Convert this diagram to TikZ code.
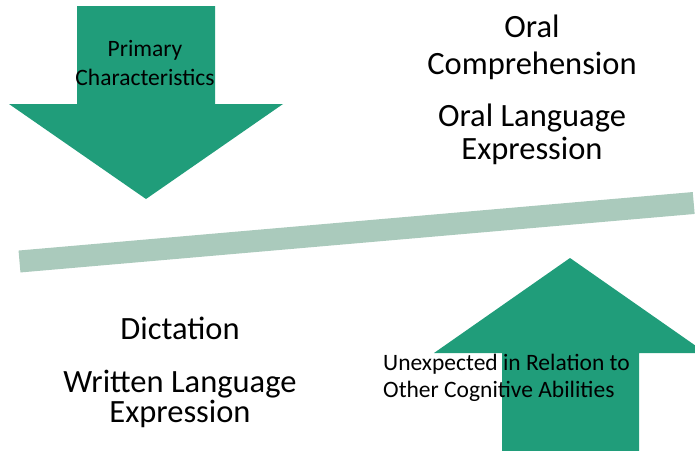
\documentclass[tikz,border=0pt]{standalone}
\usepackage{fontspec}
\setmainfont{Carlito}
\definecolor{arrowgreen}{RGB}{32,157,122}
\definecolor{bargreen}{RGB}{170,202,188}
\begin{document}
\begin{tikzpicture}[x=1pt,y=-1pt,
  bigtext/.style={inner sep=0pt,anchor=base,align=center,font=\fontsize{32.5}{36}\selectfont},
  smalltext/.style={inner sep=0pt,anchor=base,font=\fontsize{23.5}{27.5}\selectfont},
  arrowfill/.style={fill=arrowgreen,draw=none}]
\useasboundingbox (0,0) rectangle (695,450);
\clip (0,0) rectangle (695,450);
% down arrow
\fill[arrowfill] (77,6) -- (215,6) -- (215,104) -- (283,104) -- (146,199) -- (9,104) -- (77,104) -- cycle;
% up arrow
\fill[arrowfill] (502,452) -- (639,452) -- (639,353) -- (706,353) -- (570,258) -- (434,353) -- (502,353) -- cycle;
% seesaw bar
\coordinate (barL) at (19.5,261.5);
\coordinate (barR) at (693.7,203);
\draw[bargreen,line width=22pt,line cap=butt] (barL) -- (barR);
% texts (anchor=base is the baseline of the last line)
\node[smalltext,align=center] (prim) at (145,85) {Primary\\[0.8pt]Characteristics};
\node[smalltext,align=left,anchor=base west] (unexp) at (383,397) {Unexpected in Relation to\\[-0.5pt]Other Cognitive Abilities};
\node[bigtext] (oralc) at (532,74) {Oral\\[1pt]Comprehension};
\node[bigtext] (orall) at (532,159) {Oral Language\\[-3pt]Expression};
\node[bigtext] (dict) at (180,339) {Dictation};
\node[bigtext] (writ) at (180,422) {Written Language\\[-6pt]Expression};
\end{tikzpicture}
\end{document}
